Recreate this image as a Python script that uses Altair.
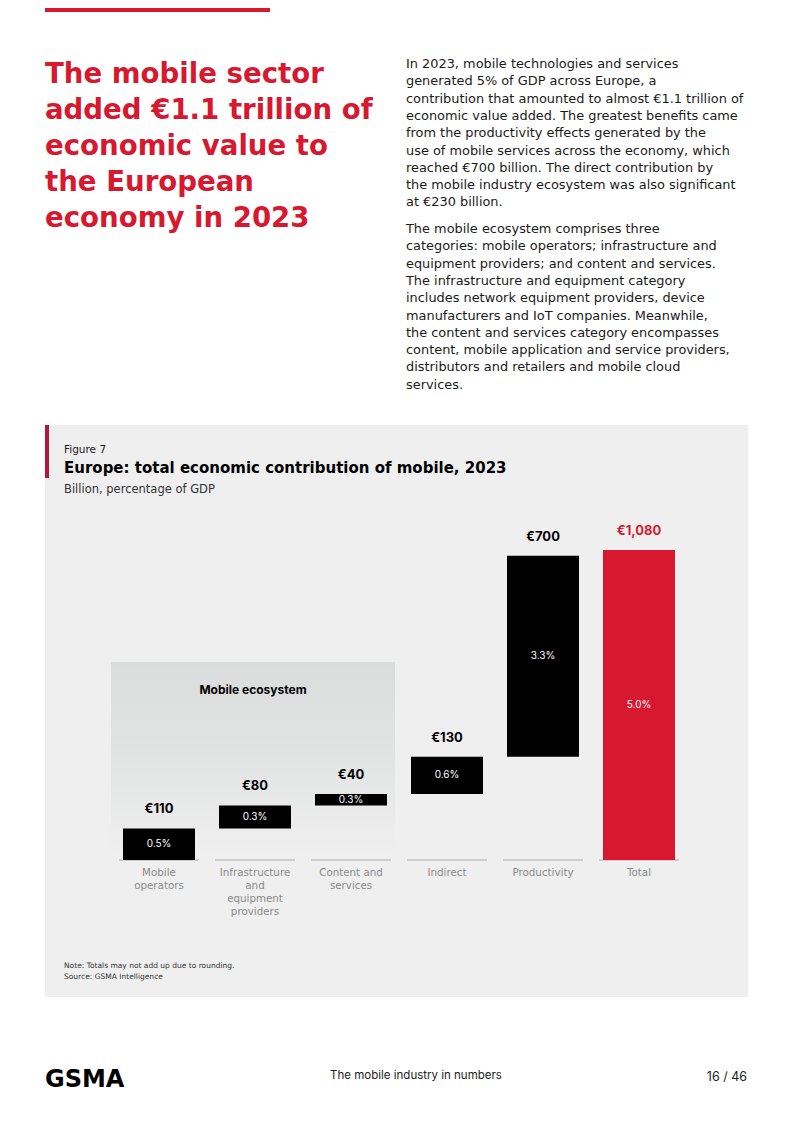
import altair as alt
import pandas as pd

# ---------------- data ----------------
categories = ["Mobile operators", "Infrastructure and equipment providers",
              "Content and services", "Indirect", "Productivity", "Total"]
cat_labels = ["Mobile\noperators", "Infrastructure\nand\nequipment\nproviders",
              "Content and\nservices", "Indirect", "Productivity", "Total"]
values = [110, 80, 40, 130, 700, 1080]
value_labels = ["€110", "€80", "€40", "€130", "€700", "€1,080"]
pct_labels = ["0.5%", "0.3%", "0.3%", "0.6%", "3.3%", "5.0%"]

headline = ["The mobile sector", "added €1.1 trillion of", "economic value to",
            "the European", "economy in 2023"]
para1 = ["In 2023, mobile technologies and services",
         "generated 5% of GDP across Europe, a",
         "contribution that amounted to almost €1.1 trillion of",
         "economic value added. The greatest benefits came",
         "from the productivity effects generated by the",
         "use of mobile services across the economy, which",
         "reached €700 billion. The direct contribution by",
         "the mobile industry ecosystem was also significant",
         "at €230 billion."]
para2 = ["The mobile ecosystem comprises three",
         "categories: mobile operators; infrastructure and",
         "equipment providers; and content and services.",
         "The infrastructure and equipment category",
         "includes network equipment providers, device",
         "manufacturers and IoT companies. Meanwhile,",
         "the content and services category encompasses",
         "content, mobile application and service providers,",
         "distributors and retailers and mobile cloud",
         "services."]
fig_label = "Figure 7"
fig_title = "Europe: total economic contribution of mobile, 2023"
fig_sub = "Billion, percentage of GDP"
group_label = "Mobile ecosystem"
notes = ["Note: Totals may not add up due to rounding.", "Source: GSMA Intelligence"]
footer_logo = "GSMA"
footer_mid = "The mobile industry in numbers"
footer_page = "16 / 46"

# waterfall table
starts, ends = [], []
run = 0
for c, v in zip(categories, values):
    if c == "Total":
        starts.append(0); ends.append(v)
    else:
        starts.append(run); ends.append(run + v); run += v
df = pd.DataFrame({"cat": categories, "start": starts, "end": ends,
                   "vlab": value_labels, "plab": pct_labels, "clab": cat_labels,
                   "zero": [0] * len(categories)})

RED = "#d7182f"
SANS = "DejaVu Sans"
INTER = "Inter"
W, H = 777, 1105

xs = alt.Scale(domain=categories, range=[103, 679], paddingInner=0.25, paddingOuter=0.125)
ys = alt.Scale(domain=[0, 1080], range=[852, 542])
X = alt.X("cat:N", sort=categories, scale=xs, axis=None)


def txt(s, x, y, size, color="#1a1a1a", weight="normal", align="left",
        baseline="alphabetic", lh=None, font=SANS):
    kw = dict(fontSize=size, color=color, fontWeight=weight, align=align,
              baseline=baseline, font=font, lineBreak="\n")
    if lh is not None:
        kw["lineHeight"] = lh
    return alt.Chart(pd.DataFrame({"t": [s]})).mark_text(**kw).encode(
        x=alt.value(x), y=alt.value(y), text="t:N")


def rect(x, x2, y, y2, color):
    return alt.Chart(pd.DataFrame({"a": [0]})).mark_rect(color=color).encode(
        x=alt.value(x), x2=alt.value(x2), y=alt.value(y), y2=alt.value(y2))


top_bar = rect(37, 262, 0, 4, RED)
panel = rect(37, 740, 417, 989, "#efefef")
accent = rect(37, 41, 417, 470, "#b5173a")

grad = alt.Gradient(gradient="linear", x1=0, x2=0, y1=0, y2=1,
                    stops=[alt.GradientStop(offset=0, color="#dbdcdc"),
                           alt.GradientStop(offset=0.45, color="#e1e2e2"),
                           alt.GradientStop(offset=1, color="#efefef")])
eco_box = alt.Chart(pd.DataFrame({"a": [0]})).mark_rect(color=grad).encode(
    x=alt.value(103), x2=alt.value(387), y=alt.value(654), y2=alt.value(845))

base = alt.Chart(df)
ticks = base.mark_tick(size=80, thickness=1.5, color="#b0b0b0", orient="horizontal").encode(
    x=X, y=alt.Y("zero:Q", scale=ys, axis=None))
bars = base.mark_bar().encode(
    x=X, y=alt.Y("start:Q", scale=ys, axis=None), y2="end:Q",
    color=alt.condition(alt.datum.cat == "Total", alt.value(RED), alt.value("#000000")))
vlabels = base.mark_text(fontSize=13, fontWeight="bold", font=INTER, baseline="alphabetic", dy=-15).encode(
    x=X, y=alt.Y("end:Q", scale=ys, axis=None), text="vlab:N",
    color=alt.condition(alt.datum.cat == "Total", alt.value(RED), alt.value("#000000")))
plabels = base.transform_calculate(mid="(datum.start + datum.end) / 2").mark_text(
    fontSize=10, font=INTER, color="white", baseline="middle").encode(
    x=X, y=alt.Y("mid:Q", scale=ys, axis=None), text="plab:N")
clabels = base.mark_text(fontSize=10.3, font=SANS, color="#8a8a8a", baseline="top",
                         lineBreak="\n", lineHeight=13, dy=8).encode(
    x=X, y=alt.Y("zero:Q", scale=ys, axis=None), text="clab:N")

layers = [
    top_bar,
    txt("\n".join(headline), 37, 75, 27.6, color=RED, weight="bold", lh=36),
    txt("\n".join(para1), 398, 60, 12.9, lh=17.3),
    txt("\n".join(para2), 398, 225, 12.9, lh=17.3),
    panel, accent,
    txt(fig_label, 56, 445, 10.5),
    txt(fig_title, 56, 465, 15, color="#000000", weight="bold"),
    txt(fig_sub, 56, 485, 11.5, color="#333333"),
    eco_box,
    txt(group_label, 245, 682, 12, color="#000000", weight="bold", align="center",
        baseline="middle", font=INTER),
    ticks, bars, vlabels, plabels, clabels,
    txt("\n".join(notes), 56, 960, 7.5, color="#333333", lh=11),
    txt(footer_logo, 37, 1072, 24, color="#000000", weight="bold", baseline="middle"),
    txt(footer_mid, 408, 1068, 11.5, color="#222222", align="center", baseline="middle", font=INTER),
    txt(footer_page, 739, 1069, 12.5, color="#222222", align="right", baseline="middle", font=INTER),
]

chart = alt.layer(*layers).properties(
    width=W, height=H, padding=0, background="white",
    autosize=alt.AutoSizeParams(type="fit", contains="padding"),
).configure_view(stroke=None)

chart.save("out.html", embed_options={"renderer": "svg", "actions": False})
